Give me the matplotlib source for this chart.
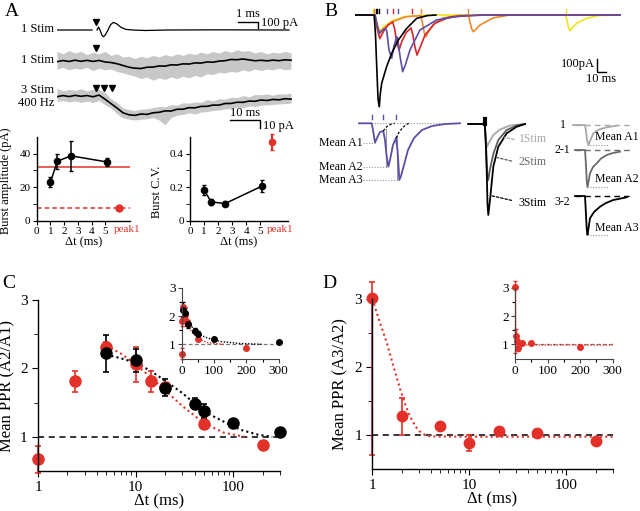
import numpy as np
import matplotlib.pyplot as plt

plt.rcParams['font.family'] = ['Liberation Serif', 'DejaVu Serif']
plt.rcParams['axes.linewidth'] = 1.0
plt.rcParams['xtick.direction'] = 'out'
plt.rcParams['ytick.direction'] = 'out'

W, H = 640, 511

RED = "#e3312a"
GREY = "#c8c8c8"
PURPLE = "#5a4ea6"
B_RED = "#d8262b"
ORANGE = "#ef8a2c"
YELLOW = "#efe21e"

# ---------------- Panel A: example traces ----------------
# single stim, fast time base (ms, pA); nan = blanked stim artefact
A1_T = [0, 1.75, np.nan, 2.0, 2.08, 2.15, 2.25, 2.33, 2.42, 2.55, 2.68, 2.82, 3.0, 3.2, 3.45, 3.8, 4.4, 5.5, 8.0, 11.6]
A1_I = [0, 0, np.nan, 0, 50, 0, -90, -112, -80, 0, 90, 128, 100, 45, 10, 0, -8, 0, 3, 0]
A1_STIM = [1.93]

# slow time base (ms), 2 ms steps
A_T = list(range(0, 80, 2))
A2_MEAN = [-0.9, 0.6, -0.6, 1.0, -0.4, 0.8, -0.5, 0.7, -1.2, -1.9, -3.4, -5.6, -7.8, -9.0, -9.4, -7.8, -7.6, -6.2, -6.4, -4.8,
           -5.0, -3.6, -3.8, -2.4, -2.6, -1.2, -1.5, -0.2, 0.4, 1.9, 1.6, 2.5, 1.4, 0.3, 0.9, 0.2, 1.1, 0.4, 1.5, 1.0]
A2_HIGH = [12, 9, 13, 10, 12, 8, 11, 9, 12, 7, 9, 5, 6, 3, 6, 4, 7, 5, 8, 6,
           9, 7, 10, 8, 11, 9, 12, 10, 13, 11, 14, 12, 13, 10, 12, 9, 11, 10, 12, 10]
A2_LOW = [-10, -8, -11, -9, -10, -8, -12, -9, -11, -10, -13, -15, -17, -19, -22, -20, -24, -21, -23, -20,
          -22, -19, -21, -18, -20, -16, -17, -14, -15, -13, -14, -11, -13, -10, -12, -10, -11, -9, -11, -10]
A2_STIM = [12.9]

A3_MEAN = [-0.9, 0.6, -0.7, 0.8, -0.4, 0.6, -1.0, 1.2, -4.0, -9.5, -15.0, -21.0, -23.5, -24.2, -22.5, -23.0, -21.0, -20.4, -18.6, -18.8,
           -16.6, -16.5, -14.6, -14.8, -13.0, -12.9, -11.3, -11.4, -9.4, -9.3, -7.8, -7.9, -6.3, -6.6, -5.0, -5.6, -4.3, -4.8, -3.4, -3.9]
A3_HIGH = [9.6, 6.5, 8.2, 7.1, 9.0, 6.4, 8.5, 8.0, 4.5, -3.5, -8.0, -15.0, -17.0, -18.0, -16.5, -16.0, -14.5, -13.0, -13.5, -11.0,
           -11.5, -8.5, -9.0, -7.5, -8.0, -4.5, -6.0, -3.5, -4.0, -1.5, -2.0, 0.5, -1.0, 2.0, 1.5, 2.5, 1.0, 3.0, 2.5, 3.4]
A3_LOW = [-7.0, -5.5, -7.5, -6.0, -8.0, -6.5, -8.0, -5.5, -11.0, -15.0, -22.0, -27.5, -29.0, -30.0, -29.0, -28.5, -27.0, -30.0, -36.0, -27.0,
          -24.0, -23.0, -21.0, -22.5, -20.0, -19.5, -18.0, -17.5, -16.0, -15.5, -14.0, -14.5, -12.5, -13.0, -11.5, -11.0, -10.5, -10.0, -9.5, -9.0]
A3_STIM = [12.9, 15.7, 18.4]

# ---------------- Panel A: burst summary ----------------
BURST_DT = [1.0, 1.5, 2.5, 5.1]
BURST_AMP = [22.8, 35.4, 38.6, 35.0]
BURST_AMP_ERR = [3.0, 4.5, 9.0, 2.5]
BURST_CV = [0.185, 0.112, 0.102, 0.205]
BURST_CV_ERR = [0.03, 0.018, 0.015, 0.035]
PEAK1_AMP = 7.5
PEAK1_CV = 0.468
PEAK1_CV_ERR = 0.05
SINGLE_AMP = 32.0
A_XTICKS = [0, 1, 2, 3, 4, 5]

# ---------------- Panel B: traces (ms, pA) ----------------
B_BLACK_T = [-23, -1, 0.5, 2.0, 3.5, 4.9, 6.0, 7.7, 13.4, 19.2, 26.8, 36.4, 47.9, 60, 70]
B_BLACK_I = [0, 0, -150, -420, -680, -740, -640, -550, -415, -308, -202, -108, -27, -5, 0]
B_PURPLE_T = [-23, 0, 2.3, 4.9, 8.0, 11.5, 13.4, 16.1, 19.2, 21.5, 24.9, 26.1, 28.7, 31.8, 35.0, 40.2, 51.7, 70.9, 97.7, 130, 282]
B_PURPLE_I = [0, 0, -80, -148, -125, -107, -125, -282, -349, -260, -175, -190, -330, -457, -400, -282, -121, -40, -8, 0, 0]
B_RED_T = [-23, 0, 2.5, 5.5, 10, 15, 20.3, 22.5, 25, 27.6, 31, 36, 41.4, 43.5, 46, 48.3, 52, 57.5, 69, 86, 120, 282]
B_RED_I = [0, 0, -110, -190, -130, -80, -56, -110, -220, -282, -210, -140, -105, -160, -260, -323, -260, -161, -65, -16, 0, 0]
B_ORANGE_T = [-23, 0, 2.5, 5.5, 10, 20, 35, 52.6, 54.5, 56.5, 58.6, 61, 66.7, 78, 95, 107.3, 109, 111, 113, 116, 120.7, 135.6, 155, 282]
B_ORANGE_I = [0, 0, -80, -150, -110, -55, -15, -5, -60, -140, -175, -140, -81, -24, -5, 0, -50, -110, -135, -115, -81, -24, 0, 0]
B_YELLOW_T = [-23, 0, 2.5, 5.5, 10, 20, 35, 60, 219, 221, 222.5, 224, 226.5, 231.8, 243, 258, 282]
B_YELLOW_I = [0, 0, -70, -130, -95, -45, -12, 0, 0, -50, -105, -127, -105, -67, -27, -4, 0]
B_STIM_T = [-2.0, -0.7, 0.6, 2.5, 5.0, 13.4, 20.3, 26.1, 42.2, 52.6, 107.3, 219.0]
B_STIM_COLOURS = [YELLOW, ORANGE, "k", "k", "k", PURPLE, B_RED, PURPLE, B_RED, ORANGE, ORANGE, YELLOW]

# B lower left: 3 stim burst, mean amplitudes
BL_T = [-12.7, 0, 1.3, 3.3, 5.3, 8.3, 11.6, 13.3, 14.8, 16.6, 18.3, 21.3, 24.3, 25.8, 26.8, 27.6, 29.3, 32.3, 36.3, 42.3, 50.3, 60.3, 73.3, 88.3]
BL_I = [0, 0, -67, -194, -147, -87, -77, -167, -317, -434, -367, -217, -147, -267, -417, -567, -527, -417, -267, -147, -67, -27, -7, 0]
BL_DECAY1_T = [11.6, 13.5, 16, 19.5, 23]
BL_DECAY1_I = [-77, -50, -25, -8, 0]
BL_DECAY2_T = [24.3, 27, 30, 33, 37]
BL_DECAY2_I = [-147, -95, -55, -25, 0]
BL_STIM_T = [0, 11.6, 24.3]
BL_PEAK_T = [3.3, 16.6, 27.6]
BL_PEAK_I = [-194, -434, -567]

# B lower middle: 1, 2, 3 stim overlay
BM_1_T = [-15, 1.5, 2.5, 3.7, 6, 10, 16.7, 26.7, 41.7]
BM_1_I = [0, 0, -150, -227, -180, -110, -55, -15, 0]
BM_2_T = [-15, 1.5, 2.5, 3.5, 4.2, 5, 6.7, 10, 15, 23.4, 33.4, 41.7]
BM_2_I = [0, 0, -150, -400, -530, -560, -450, -300, -160, -60, -15, 0]
BM_3_T = [-15, 1.5, 2.5, 3.5, 4.2, 5, 6.7, 10, 15, 23.4, 33.4, 41.7]
BM_3_I = [0, 0, -200, -500, -800, -910, -760, -427, -227, -93, -27, 0]

# B lower right: subtracted traces
BR_1_T = [-12, 0, 1, 2, 3.5, 5, 8.3, 14, 21.7, 31.7]
BR_1_I = [0, 0, -60, -150, -200, -160, -83, -45, -23, -7]
BR_2_T = [-10, 0, 0.8, 1.7, 2.5, 5, 8, 11.7, 16, 21.7, 28, 35]
BR_2_I = [0, 0, -120, -300, -373, -233, -170, -133, -85, -50, -30, -17]
BR_3_T = [-10, 0, 0.8, 1.7, 2.5, 5, 9, 15, 21, 28.3, 41.7]
BR_3_I = [0, 0, -150, -330, -390, -223, -160, -107, -70, -40, -13]

# ---------------- Panel C: A2/A1 ----------------
C_BLACK_DT = [5, 10, 20, 40, 50, 100, 300]
C_BLACK_PPR = [2.22, 2.12, 1.72, 1.48, 1.38, 1.20, 1.07]
C_BLACK_ERR = [0.27, 0.17, 0.13, 0.08, 0.10, 0.04, 0.02]
C_RED_DT = [1, 2.4, 5, 10, 14.3, 20, 50, 200]
C_RED_PPR = [0.67, 1.81, 2.32, 2.06, 1.81, 1.73, 1.19, 0.88]
C_RED_ERR = [0.20, 0.15, 0.06, 0.26, 0.15, 0.05, 0.07, 0.02]
C_RED_FIT_DT = [5, 7, 10, 14, 20, 30, 50, 80, 130]
C_RED_FIT = [2.33, 2.22, 2.06, 1.88, 1.68, 1.45, 1.20, 1.06, 1.0]
C_BLACK_FIT_DT = [5, 7, 10, 14, 20, 30, 50, 80, 120, 180, 250]
C_BLACK_FIT = [2.20, 2.15, 2.08, 1.97, 1.82, 1.64, 1.37, 1.22, 1.10, 1.03, 1.0]

# ---------------- Panel D: A3/A2 ----------------
D_DT = [1, 2, 5, 10, 20, 50, 200]
D_PPR = [3.02, 1.28, 1.13, 0.88, 1.06, 1.03, 0.91]
D_ERR_LOW = [2.32, 0.28, 0.05, 0.11, 0.05, 0.03, 0.03]
D_ERR_HIGH = [0.23, 0.27, 0.05, 0.12, 0.05, 0.03, 0.03]
D_FIT_DT = [1.0, 1.2, 1.4, 1.7, 1.95, 2.2, 2.45, 2.8, 3.1, 3.5, 4.0, 10, 100, 300]
D_FIT = [3.0, 2.65, 2.37, 1.95, 1.66, 1.44, 1.27, 1.12, 1.05, 1.0, 0.98, 0.975, 0.975, 0.975]


fig = plt.figure(figsize=(6.4, 5.11), dpi=100)


def add_box(x0, y0, x1, y1):
    return fig.add_axes([x0 / W, 1 - y1 / H, (x1 - x0) / W, (y1 - y0) / H])


def fig_text(x, y, s, **kw):
    fig.text(x / W, 1 - y / H, s, **kw)


def clean_spines(ax):
    ax.spines['top'].set_visible(False)
    ax.spines['right'].set_visible(False)


# ======== A: traces ========
ax = add_box(57, 10, 292, 45)
ax.set_axis_off()
ax.set_xlim(0, 11.75)
ax.set_ylim(-250, 334)
ax.plot(A1_T, A1_I, color="k", lw=0.9)
ax.plot(A1_STIM, [139], "v", color="k", ms=4.5)
ax.plot([9.05, 10.05, 10.05], [139, 139, 39], color="k", lw=1)
ax.text(9.55, 160, "1 ms", ha="center", va="bottom", fontsize=9)
ax.text(10.2, 115, "100 pA", ha="left", va="center", fontsize=9)

ax = add_box(57, 40, 292, 135)
ax.set_axis_off()
ax.set_xlim(0, 78.33)
ax.set_ylim(-118.75, 0)
base2, base3 = -26.25, -70.0
ax.fill_between(A_T, np.add(A2_LOW, base2), np.add(A2_HIGH, base2), color=GREY, lw=0)
ax.plot(A_T, np.add(A2_MEAN, base2), color="k", lw=1.2)
ax.plot(A2_STIM, [-9.6] * len(A2_STIM), "v", color="k", ms=4.5)
ax.fill_between(A_T, np.add(A3_LOW, base3), np.add(A3_HIGH, base3), color=GREY, lw=0)
ax.plot(A_T, np.add(A3_MEAN, base3), color="k", lw=1.2)
ax.plot(A3_STIM, [-59.6] * len(A3_STIM), "v", color="k", ms=4.5)
ax.plot([57.7, 67.7, 67.7], [-100, -100, -110], color="k", lw=1)
ax.text(62.7, -99, "10 ms", ha="center", va="bottom", fontsize=9)
ax.text(68.5, -107.5, "10 pA", ha="left", va="center", fontsize=9)

fig_text(54, 29, "1 Stim", ha="right", va="center", fontsize=9)
fig_text(54, 60, "1 Stim", ha="right", va="center", fontsize=9)
fig_text(54, 90, "3 Stim", ha="right", va="center", fontsize=9)
fig_text(54, 103, "400 Hz", ha="right", va="center", fontsize=9)

# ======== A: burst amplitude / CV ========
for kind in ("amp", "cv"):
    if kind == "amp":
        ax = add_box(36.7, 136.7, 130, 220.7)
        ax.set_xlim(0, 6.8)
        ax.set_ylim(0, 50)
        peak_x, label_x = 6.0, 6.6
        ax.axhline(SINGLE_AMP, color=RED, lw=1.1)
        ax.axhline(PEAK1_AMP, color=RED, lw=1.1, ls=(0, (3, 2)))
        ax.errorbar(BURST_DT, BURST_AMP, yerr=BURST_AMP_ERR, fmt="-o", color="k", ms=4.5, lw=1.1, capsize=1.5)
        ax.plot([peak_x], [PEAK1_AMP], "o", color=RED, ms=5)
        ax.set_yticks([0, 20, 40])
        ax.set_yticks([10, 30], minor=True)
        ax.set_ylabel("Burst amplitude (pA)", fontsize=9)
        ax.yaxis.set_label_coords(-0.265, 0.47)
        xl = 0.5
    else:
        ax = add_box(190, 136.7, 288.3, 220.7)
        ax.set_xlim(0, 7.0)
        ax.set_ylim(0, 0.5)
        peak_x, label_x = 5.85, 6.43
        ax.errorbar(BURST_DT, BURST_CV, yerr=BURST_CV_ERR, fmt="-o", color="k", ms=4.5, lw=1.1, capsize=1.5)
        ax.errorbar([peak_x], [PEAK1_CV], yerr=[PEAK1_CV_ERR], fmt="o", color=RED, ms=4.5, capsize=1.5, clip_on=False)
        ax.set_yticks([0, 0.2, 0.4], ["0", "0.2", "0.4"])
        ax.set_yticks([0.1, 0.3], minor=True)
        ax.set_ylabel("Burst C.V.", fontsize=9)
        ax.yaxis.set_label_coords(-0.275, 0.34)
        xl = 0.49
    clean_spines(ax)
    ax.set_xticks(A_XTICKS, [str(v) for v in A_XTICKS])
    ax.text(label_x, -0.1, "peak1", color=RED, ha="center", va="center", fontsize=8,
            transform=ax.get_xaxis_transform())
    ax.tick_params(labelsize=8, length=3, pad=1.5)
    ax.tick_params(which="minor", length=3)
    ax.set_xlabel("Δt (ms)", fontsize=9)
    ax.xaxis.set_label_coords(xl, -0.185)

# ======== B: upper traces ========
ax = add_box(355, 5, 621, 110)
ax.set_axis_off()
ax.set_xlim(-23, 282.8)
ax.set_ylim(-766, 80.6)
ax.plot(B_YELLOW_T, B_YELLOW_I, color=YELLOW, lw=1.2)
ax.plot(B_ORANGE_T, B_ORANGE_I, color=ORANGE, lw=1.2)
ax.plot(B_RED_T, B_RED_I, color=B_RED, lw=1.2)
ax.plot(B_PURPLE_T, B_PURPLE_I, color=PURPLE, lw=1.2)
ax.plot(B_BLACK_T, B_BLACK_I, color="k", lw=1.2)
for t, c in zip(B_STIM_T, B_STIM_COLOURS):
    ax.plot([t, t], [15, 45], color=c, lw=1)
ax.plot([255.5, 255.5, 265.5], [-357, -457, -457], color="k", lw=1)
ax.text(253, -395, "100pA", ha="right", va="center", fontsize=9)
ax.text(260, -470, "10 ms", ha="center", va="top", fontsize=9)

# ======== B: lower left ========
ax = add_box(355, 110, 470, 190)
ax.set_axis_off()
ax.set_xlim(-16.7, 98.3)
ax.set_ylim(-667, 133)
ax.plot([-6, 75], [0, 0], color="#999999", lw=0.8, ls=(0, (1, 1.5)))
ax.plot([14.0, 14.0], [-55, -434], color="#999999", lw=0.8)
ax.plot([25.6, 25.6], [-120, -567], color="#999999", lw=0.8)
ax.plot(BL_T, BL_I, color=PURPLE, lw=1.3)
ax.plot(BL_DECAY1_T, BL_DECAY1_I, color="k", lw=0.9, ls=(0, (2, 1.5)))
ax.plot(BL_DECAY2_T, BL_DECAY2_I, color="k", lw=0.9, ls=(0, (2, 1.5)))
for t in BL_STIM_T:
    ax.plot([t, t], [45, 85], color=PURPLE, lw=1)
for i, (t, a) in enumerate(zip(BL_PEAK_T, BL_PEAK_I)):
    ax.plot([-8.5, t], [a, a], color="#999999", lw=0.8, ls=(0, (1, 1.5)))
    ax.text(-9, a, "Mean A%d" % (i + 1), ha="right", va="center", fontsize=8.5)

# ======== B: lower middle ========
ax = add_box(465, 110, 560, 225)
ax.set_axis_off()
ax.set_xlim(-18.3, 76.7)
ax.set_ylim(-1010, 140)
ax.plot(BM_1_T, BM_1_I, color="#a8a8a8", lw=1.3)
ax.plot(BM_2_T, BM_2_I, color="#5c5c5c", lw=1.3)
ax.plot(BM_3_T, BM_3_I, color="k", lw=1.3)
ax.plot([1.2, 1.2], [0, 45], color="k", lw=3)
leader = dict(arrowstyle="-", lw=0.9, ls=(0, (2, 1.5)))
ax.annotate("", xy=(18.4, -127), xytext=(33.4, -160), arrowprops=dict(leader, color="#a8a8a8"))
ax.annotate("", xy=(10, -327), xytext=(31, -377), arrowprops=dict(leader, color="#5c5c5c"))
ax.annotate("", xy=(5, -710), xytext=(31, -770), arrowprops=dict(leader, color="k"))
ax.text(35.5, -150, "1Stim", color="#a8a8a8", ha="left", va="center", fontsize=8.5)
ax.text(35.5, -380, "2Stim", color="#6a6a6a", ha="left", va="center", fontsize=8.5)
ax.text(35.5, -790, "3Stim", color="k", ha="left", va="center", fontsize=8.5)

# ======== B: lower right ========
ax = add_box(555, 115, 640, 242)
ax.set_axis_off()
ax.set_xlim(-30, 55)
ax.set_ylim(-1170, 100)
sub_traces = [(BR_1_T, BR_1_I, "#a8a8a8", 0, "1", 0),
              (BR_2_T, BR_2_I, "#6a6a6a", -250, "2-1", -250),
              (BR_3_T, BR_3_I, "k", -710, "3-2", -770)]
for t, a, c, off, lab, lab_y in sub_traces:
    ax.plot([-10, 45], [off, off], color=c, lw=1, ls=(0, (4, 3)))
    ax.plot(t, np.add(a, off), color=c, lw=1.3)
    peak = min(a) + off
    ax.plot([2, 24], [peak, peak], color="#999999", lw=0.8, ls=(0, (1, 1.5)))
    ax.text(-22.5, lab_y, lab, ha="center", va="center", fontsize=8.5)
ax.text(10, -117, "Mean A1", ha="left", va="center", fontsize=8.5)
ax.text(10, -543, "Mean A2", ha="left", va="center", fontsize=8.5)
ax.text(10, -1027, "Mean A3", ha="left", va="center", fontsize=8.5)


# ======== C and D ========
def style_ppr(ax, ylabel):
    clean_spines(ax)
    ax.set_xscale("log")
    ax.set_xlim(1, 300)
    ax.set_ylim(0.5, 3.0)
    ax.set_xticks([1, 10, 100], ["1", "10", "100"])
    ax.set_xticks([2, 3, 4, 5, 6, 7, 8, 9, 20, 30, 40, 50, 60, 70, 80, 90, 200, 300], minor=True)
    ax.xaxis.set_minor_formatter(plt.NullFormatter())
    ax.set_yticks([1, 2, 3])
    ax.set_yticks([1.5, 2.5], minor=True)
    ax.tick_params(labelsize=11, length=4)
    ax.tick_params(which="minor", length=3)
    ax.axhline(1.0, color="k", lw=1.1, ls=(0, (4, 3)))
    ax.set_ylabel(ylabel, fontsize=12)
    ax.set_xlabel("Δt (ms)", fontsize=12)
    ax.xaxis.set_label_coords(0.5, -0.13)


def style_inset(ax):
    clean_spines(ax)
    for s in ("left", "bottom"):
        ax.spines[s].set_color("#444444")
        ax.spines[s].set_linewidth(0.8)
    ax.set_xlim(0, 300)
    ax.set_ylim(0.5, 3.0)
    ax.set_xticks([0, 100, 200, 300])
    ax.set_xticks([50, 150, 250], minor=True)
    ax.set_yticks([1, 2, 3])
    ax.set_yticks([1.5, 2.5], minor=True)
    ax.tick_params(labelsize=9.5, length=3, width=0.8, pad=1.5, color="#444444")
    ax.tick_params(which="minor", length=2.5, width=0.8)
    ax.axhline(1.0, color="#777777", lw=0.9, ls=(0, (3, 2)))


ax = add_box(38, 300, 280, 471)
style_ppr(ax, "Mean PPR (A2/A1)")
ax.yaxis.set_label_coords(-0.095, 0.5)
ax.plot(C_RED_FIT_DT, C_RED_FIT, color=RED, lw=1.5, ls=(0, (1, 1.5)))
ax.plot(C_BLACK_FIT_DT, C_BLACK_FIT, color="k", lw=1.5, ls=(0, (1, 1.5)))
ax.errorbar(C_RED_DT, C_RED_PPR, yerr=C_RED_ERR, fmt="o", color=RED, ms=8, capsize=2.5, elinewidth=1.2, capthick=1.2, clip_on=False)
ax.errorbar(C_BLACK_DT, C_BLACK_PPR, yerr=C_BLACK_ERR, fmt="o", color="k", ms=8, capsize=2.5, elinewidth=1.2, capthick=1.2, clip_on=False)

ax = add_box(181.7, 287.7, 278.7, 358.5)
style_inset(ax)
ax.plot(C_RED_FIT_DT, C_RED_FIT, color=RED, lw=1, ls=(0, (1, 1.2)))
ax.plot(C_BLACK_FIT_DT, C_BLACK_FIT, color="k", lw=1, ls=(0, (1, 1.2)))
ax.errorbar(C_RED_DT, C_RED_PPR, yerr=C_RED_ERR, fmt="o", color=RED, ms=4, capsize=1.2, elinewidth=0.8, clip_on=False)
ax.errorbar(C_BLACK_DT, C_BLACK_PPR, yerr=C_BLACK_ERR, fmt="o", color="k", ms=4, capsize=1.2, elinewidth=0.8, clip_on=False)

ax = add_box(372.3, 299, 612.7, 469)
style_ppr(ax, "Mean PPR (A3/A2)")
ax.yaxis.set_label_coords(-0.1, 0.5)
ax.plot(D_FIT_DT, D_FIT, color=RED, lw=1.5, ls=(0, (1, 1.5)))
ax.errorbar(D_DT, D_PPR, yerr=[D_ERR_LOW, D_ERR_HIGH], fmt="o", color=RED, ms=7.5, capsize=2.5, elinewidth=1.2, capthick=1.2, clip_on=False)

ax = add_box(515, 287.7, 612.7, 358.5)
style_inset(ax)
ax.plot(D_FIT_DT, D_FIT, color=RED, lw=1, ls=(0, (1, 1.2)))
ax.errorbar(D_DT, D_PPR, yerr=[D_ERR_LOW, D_ERR_HIGH], fmt="o", color=RED, ms=4, capsize=1.2, elinewidth=0.9, clip_on=False)

# panel letters
for letter, x, y in (("A", 12, 11), ("B", 331, 11), ("C", 9, 283), ("D", 329, 283)):
    fig_text(x, y, letter, ha="center", va="center", fontsize=14)

fig.savefig("out.png", dpi=100)
